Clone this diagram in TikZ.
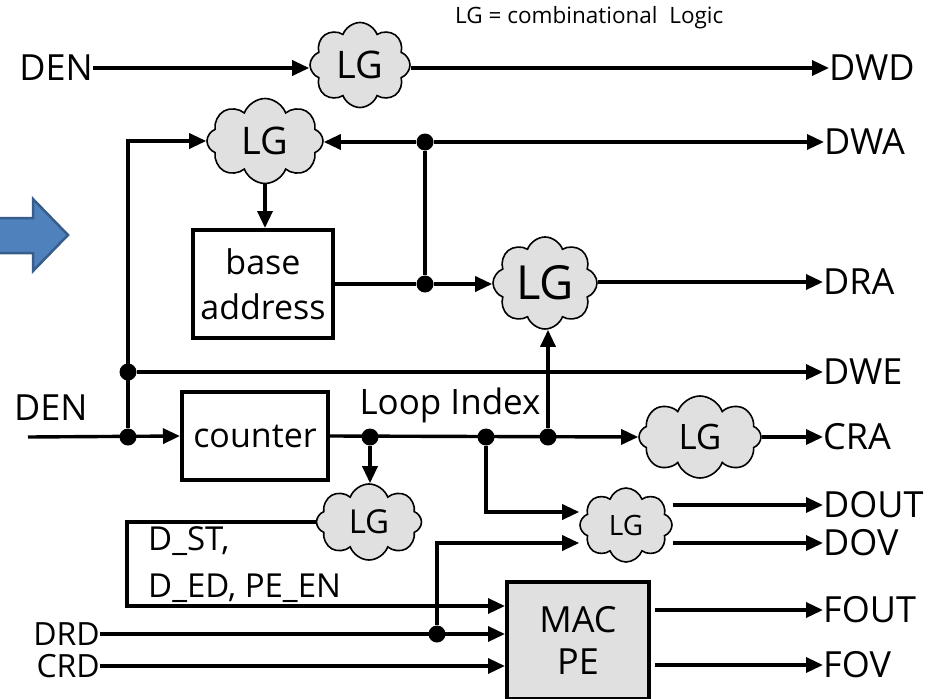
\documentclass[tikz,border=0pt]{standalone}
\usepackage{fontspec}
\setmainfont{Open Sans}
\usetikzlibrary{shapes.symbols,arrows.meta}
\definecolor{lggray}{HTML}{E0E0E0}
\definecolor{arrowblue}{HTML}{4F81BD}
\definecolor{arrowedge}{HTML}{385D8A}
\newcommand{\fs}[1]{\fontsize{#1}{#1}\selectfont}
\newcommand{\fsl}[2]{\fontsize{#1}{#2}\selectfont}
\tikzset{
  wire/.style={line width=3.4pt},
  arr/.style={-{Triangle[length=17pt,width=15pt]}},
  jdot/.style={circle, fill=black, inner sep=0pt, minimum size=17pt},
  lg/.style={cloud, cloud puffs=8, cloud puff arc=140, cloud ignores aspect,
    draw, line width=1.6pt, fill=lggray, inner sep=0pt},
  block/.style={draw, line width=4pt, inner sep=0pt, align=center},
  sig/.style={inner sep=0pt, font=\fs{36}},
}
\begin{document}
\begin{tikzpicture}[x=1pt,y=-1pt]
\useasboundingbox (0,0) rectangle (932,699);

% left block arrow
\filldraw[fill=arrowblue, draw=arrowedge, line width=2.5pt, line join=miter]
  (-6,218) -- (33,218) -- (33,199) -- (68,235) -- (33,271) -- (33,253) -- (-6,253) -- cycle;

% legend
\node[inner sep=0pt, font=\fs{22.5}, anchor=west] (legend) at (455,18) {LG = combinational\ \ Logic};

% logic clouds
\node[lg, minimum width=100pt, minimum height=85pt, font=\fs{38}] (c1) at (360,65) {LG};
\node[lg, minimum width=116pt, minimum height=85pt, font=\fs{38}] (c2) at (265,141) {LG};
\node[lg, minimum width=104pt, minimum height=92pt, font=\fs{47}] (c3) at (545,283) {LG};
\node[lg, minimum width=122pt, minimum height=82pt, font=\fs{35}] (c4) at (700,437) {LG};
\node[lg, minimum width=105pt, minimum height=76pt, font=\fs{33}] (c5) at (369,522) {LG};
\node[lg, minimum width=92pt, minimum height=74pt, font=\fs{28}] (c6) at (626,525) {LG};

% blocks
\node[block, minimum width=140pt, minimum height=108pt, font=\fsl{34}{45}] (base) at (263,284) {base\\address};
\node[block, minimum width=146pt, minimum height=88pt, font=\fs{34}] (counter) at (255,436) {counter};
\node[block, fill=lggray, minimum width=142pt, minimum height=117pt, font=\fsl{36}{42}] (mac) at (578,640) {MAC\\PE};

% signal names
\node[sig, anchor=east] (den1) at (93,68) {DEN};
\node[sig, anchor=west] (den2) at (14,408) {DEN};
\node[sig, anchor=east, font=\fs{32}] (drd) at (100,634) {DRD};
\node[sig, anchor=east, font=\fs{32}] (crd) at (100,666) {CRD};
\node[sig, anchor=west] (dwd) at (829,68) {DWD};
\node[sig, anchor=west] (dwa) at (824,142) {DWA};
\node[sig, anchor=west] (dra) at (823,282) {DRA};
\node[sig, anchor=west] (dwe) at (823,372) {DWE};
\node[sig, anchor=west] (cra) at (823,437) {CRA};
\node[sig, anchor=west] (dout) at (823,505) {DOUT};
\node[sig, anchor=west] (dov) at (823,543) {DOV};
\node[sig, anchor=west] (fout) at (823,610) {FOUT};
\node[sig, anchor=west] (fov) at (823,665) {FOV};
\node[sig, font=\fs{35}] (loop) at (450,405) {Loop Index};
\node[sig, font=\fs{33}, anchor=base west] (dst) at (148,550) {D\_ST,};
\node[sig, font=\fs{33}, anchor=base west] (ded) at (148,597) {D\_ED, PE\_EN};

% junctions
\node[jdot] (j1) at (425,142) {};
\node[jdot] (j2) at (425,284) {};
\node[jdot] (jA) at (128,372) {};
\node[jdot] (jB) at (128,437) {};
\node[jdot] (j3) at (370,437) {};
\node[jdot] (j5) at (486,437) {};
\node[jdot] (j4) at (548,437) {};
\node[jdot] (j6) at (437,634) {};
\coordinate (dinput) at (28,437);
\coordinate (loopback) at (127,606);

% wiring
\draw[wire,arr] (den1.east) -- (den1.east -| c1.west);
\draw[wire,arr] (c1.east |- dwd.west) -- (dwd.west);
\draw[wire,arr] (j1) -- (j1 -| c2.east);
\draw[wire,arr] (j1) -- (dwa.west);
\draw[wire] (j1) -- (j2);
\draw[wire,arr] (c2.south) -- (c2.south |- base.north);
\draw[wire] (base.east) -- (j2);
\draw[wire,arr] (j2) -- (j2 -| c3.west);
\draw[wire,arr] (c3.east |- dra.west) -- (dra.west);
\draw[wire,arr] (j4) -- (j4 |- c3.south);
\draw[wire,arr] (jB) |- (c2.west);
\draw[wire,arr] (jA) -- (dwe.west);
\draw[wire,arr] (dinput) -- (counter.west);
\draw[wire,arr] (counter.east) -- (c4.west);
\draw[wire,arr] (c4.east) -- (cra.west);
\draw[wire,arr] (j3) -- (j3 |- c5.north);
\draw[wire,arr] (c5.west) -| (loopback) -- (loopback -| mac.west);
\draw[wire,arr] (j5) |- ([yshift=13pt]c6.west);
\draw[wire,arr] (drd.east) -- (drd.east -| mac.west);
\draw[wire,arr] (j6) |- ([yshift=-18pt]c6.west);
\draw[wire,arr] (crd.east) -- (crd.east -| mac.west);
\draw[wire,arr] (dout.west -| c6.east) -- (dout.west);
\draw[wire,arr] (dov.west -| c6.east) -- (dov.west);
\draw[wire,arr,shorten <=4pt] (fout.west -| mac.east) -- (fout.west);
\draw[wire,arr,shorten <=4pt] (fov.west -| mac.east) -- (fov.west);
\end{tikzpicture}
\end{document}
